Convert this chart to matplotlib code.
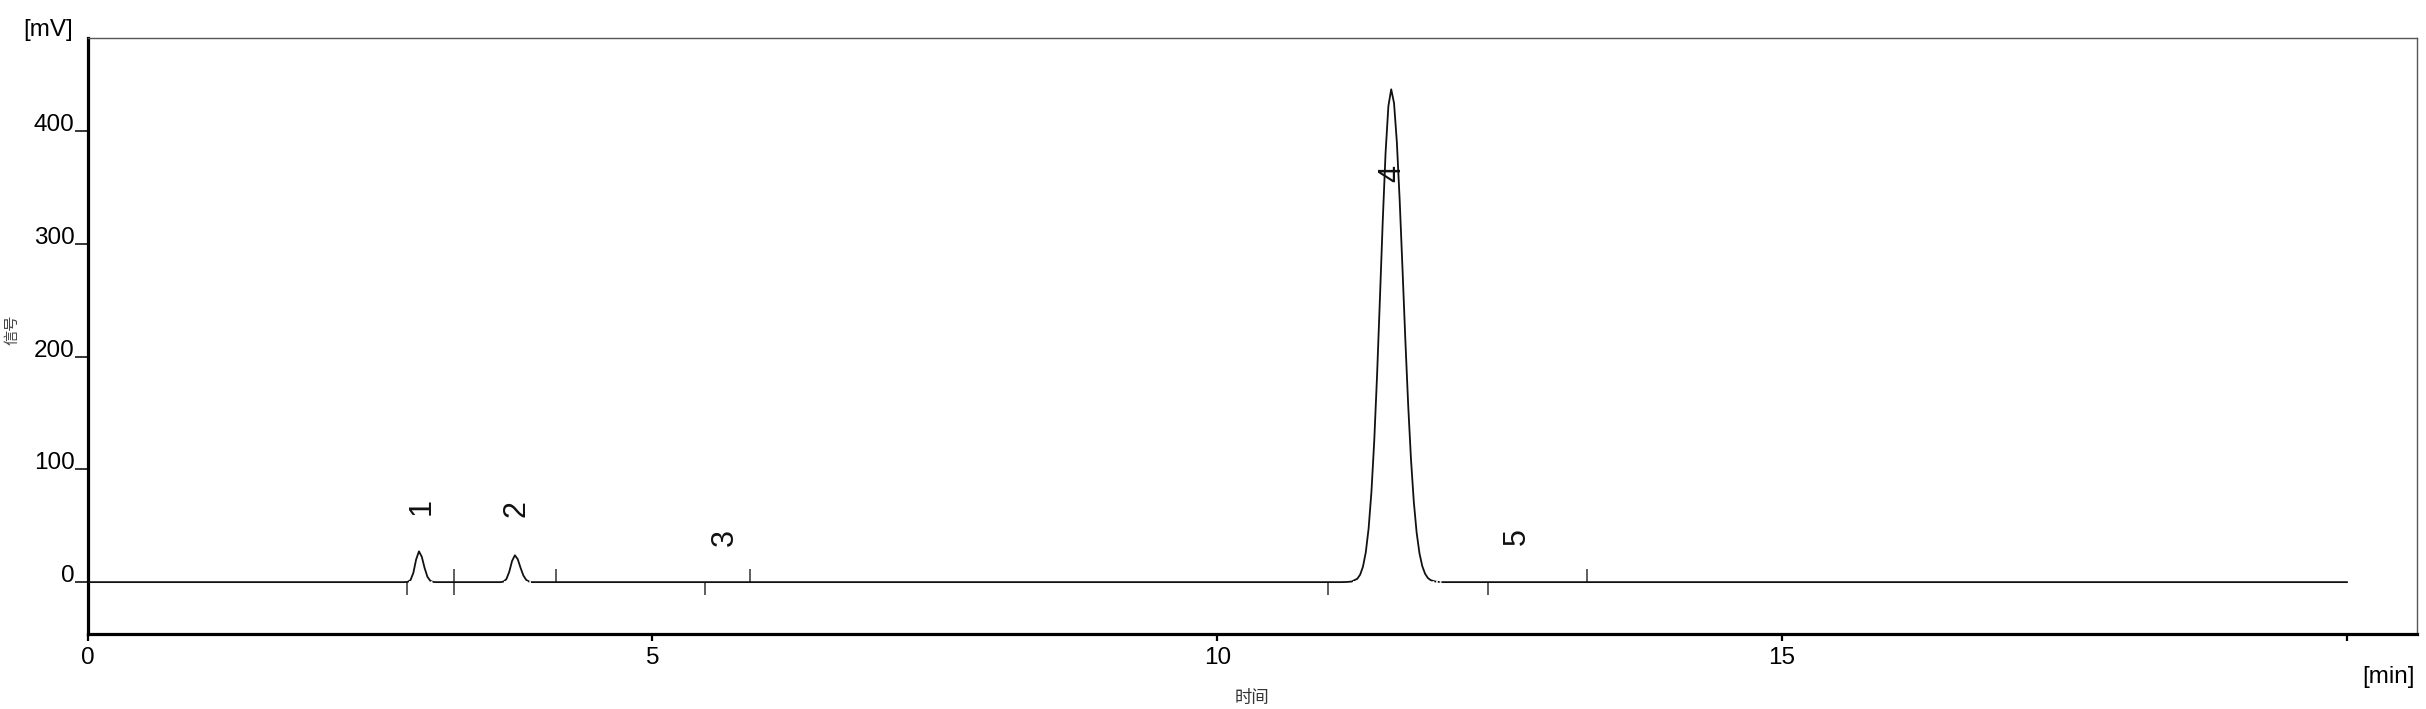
import matplotlib
matplotlib.use("Agg")
import matplotlib.pyplot as plt

W, H, DPI = 2426, 709, 100

# ---- data ----
trace_time = [0.0, 2.80,
              2.834, 2.859, 2.884, 2.909, 2.934, 2.959, 2.984, 3.009, 3.034, 3.059, 3.084,
              3.658, 3.683, 3.708, 3.733, 3.758, 3.783, 3.808, 3.833, 3.858, 3.883, 3.908, 3.933,
              11.09, 11.14, 11.19, 11.24, 11.265, 11.29, 11.315, 11.34, 11.365, 11.39, 11.415,
              11.44, 11.465, 11.49, 11.515, 11.54, 11.565, 11.59, 11.615, 11.64, 11.665, 11.69,
              11.715, 11.74, 11.765, 11.79, 11.815, 11.84, 11.865, 11.89, 11.94, 11.99,
              20.0]
trace_mv = [0.0, 0.0,
            0.2, 1.8, 8.1, 20.1, 27.3, 22.5, 12.5, 4.7, 1.2, 0.2, 0.0,
            0.0, 0.5, 2.7, 9.1, 18.7, 23.8, 20.4, 12.8, 5.9, 2.0, 0.5, 0.0,
            0.0, 0.1, 0.5, 3.0, 6.6, 13.7, 26.4, 47.6, 80.1, 125.6, 183.9,
            251.1, 320.0, 380.5, 422.1, 437.0, 424.8, 390.2, 338.6, 277.7, 215.1, 157.5,
            109.0, 71.2, 44.0, 25.7, 14.2, 7.4, 3.6, 1.7, 0.3, 0.0,
            0.0]

peak_names = ["1", "2", "3", "4", "5"]
peak_label_time = [2.96, 3.80, 5.64, 11.55, 12.65]
peak_label_mv = [67, 65, 40, 362, 40]

# integration event markers: time and direction
event_time = [2.83, 3.24, 4.15, 5.47, 5.86, 10.98, 12.40, 13.27]
event_dir = ["down", "both", "up", "down", "up", "down", "down", "up"]

# dotted baseline segments under integrated peaks
dotted_start = [2.85, 3.69, 11.20]
dotted_end = [3.06, 3.93, 11.99]

x_ticks = [0, 5, 10, 15, 20]
x_ticklabels = ["0", "5", "10", "15", ""]
y_ticks = [0, 100, 200, 300, 400]
y_ticklabels = ["0", "100", "200", "300", "400"]

# ---- figure ----
plt.rcParams['font.family'] = ['Liberation Sans', 'DejaVu Sans']
fig = plt.figure(figsize=(W / DPI, H / DPI), dpi=DPI)
left, right, top, bottom = 87.5, 2417, 38, 634
ax = fig.add_axes([left / W, 1 - bottom / H, (right - left) / W, (bottom - top) / H])

ax.set_xlim(0, 20.62)
ax.set_ylim(-46.0, 482.5)

ax.plot(trace_time, trace_mv, color="#111111", lw=1.3, solid_joinstyle="round", zorder=3)
for s, e in zip(dotted_start, dotted_end):
    ax.plot([s, e], [0, 0], color="white", lw=1.3, linestyle=(0, (1.0, 1.0)), zorder=4)

tick_len = 11.5
for t, d in zip(event_time, event_dir):
    lo = -tick_len if d in ("down", "both") else 0
    hi = tick_len if d in ("up", "both") else 0
    ax.vlines(t, lo, hi, color="#333333", lw=1.1, zorder=2)

for name, tx, ty in zip(peak_names, peak_label_time, peak_label_mv):
    ax.text(tx, ty, name, rotation=90, ha="center", va="center", fontsize=22,
            color="#111111", zorder=5)

# spines
for side in ("left", "bottom"):
    ax.spines[side].set_linewidth(2.3)
    ax.spines[side].set_color("black")
for side in ("top", "right"):
    ax.spines[side].set_linewidth(1.0)
    ax.spines[side].set_color("#555555")

ax.set_xticks(x_ticks)
ax.set_xticklabels(x_ticklabels)
ax.set_yticks(y_ticks)
ax.set_yticklabels(y_ticklabels)
ax.tick_params(axis="x", direction="out", length=5, width=1.6, pad=4,
               labelsize=17.5, colors="black")
ax.tick_params(axis="y", direction="out", length=9.4, width=1.1, pad=0,
               labelsize=17.5, colors="black")
for lab in ax.get_yticklabels():
    lab.set_verticalalignment("baseline")

fig.text(73 / W, 1 - 30 / H, "[mV]", ha="right", va="center", fontsize=17.5)
fig.text(2415 / W, 1 - 677 / H, "[min]", ha="right", va="center", fontsize=17.5)
fig.text(1252 / W, 1 - 698 / H, "时间", ha="center", va="center", fontsize=12.5,
         color="#333333", family=["Noto Sans CJK SC", "DejaVu Sans"])
fig.text(12 / W, 1 - 330 / H, "信号", ha="center", va="center", fontsize=11,
         rotation=90, color="#444444", family=["Noto Sans CJK SC", "DejaVu Sans"])

fig.savefig("out.png", dpi=DPI)
